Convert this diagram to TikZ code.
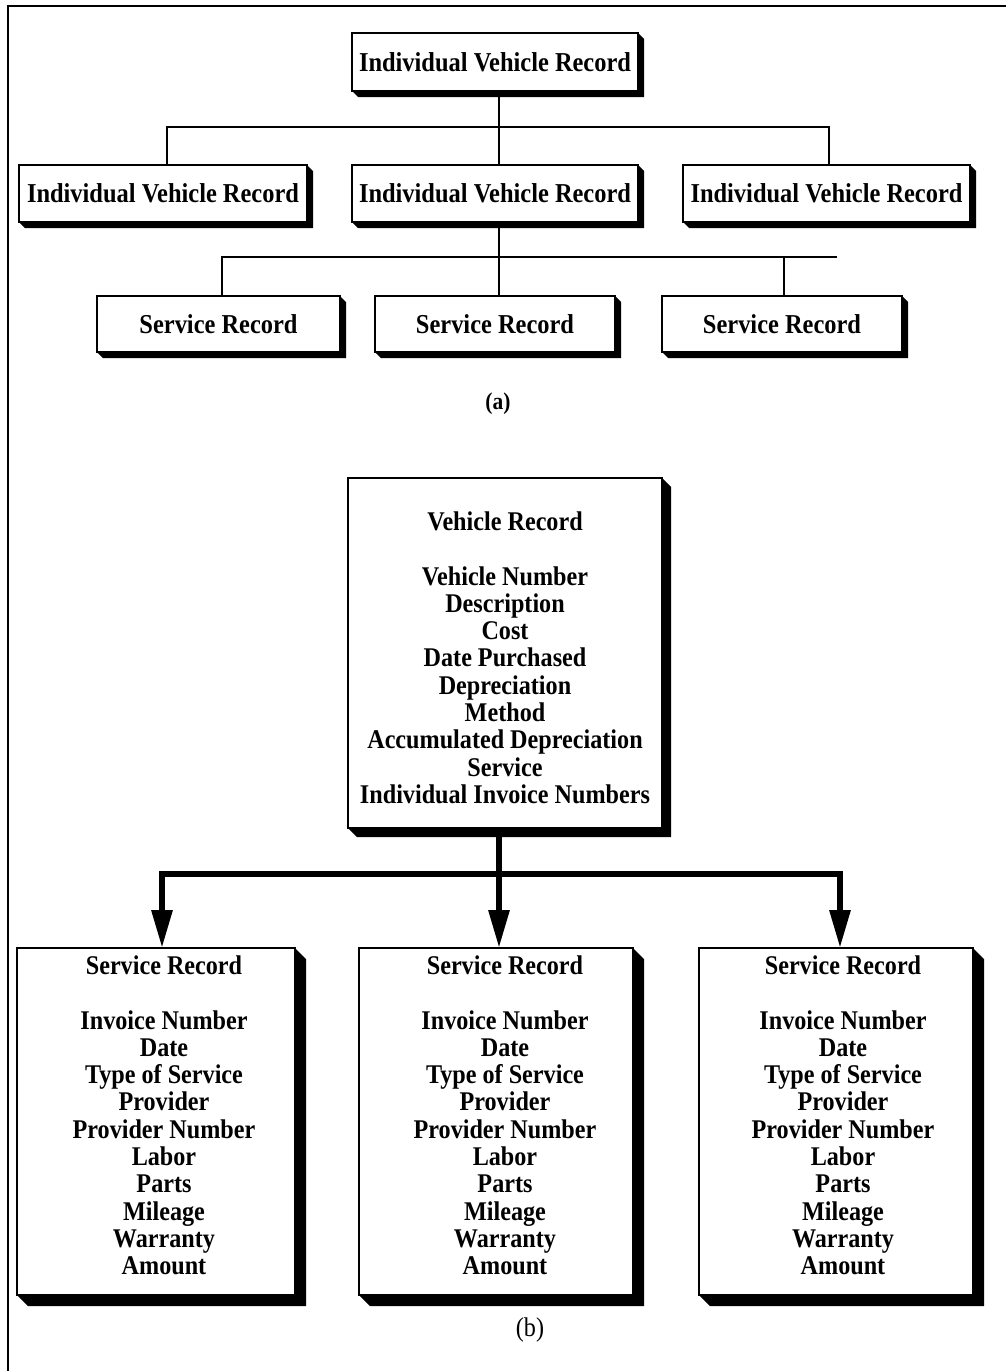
\documentclass[tikz,border=0pt]{standalone}
\usepackage{fontspec}
\setmainfont{Liberation Serif}
\newfontfamily\recfont{Liberation Serif}[FakeStretch=0.895]
\usetikzlibrary{arrows.meta,calc}

\tikzset{
  rec/.style={draw, line width=2.6pt, fill=white, inner sep=0pt, outer sep=0pt,
    font=\recfont\bfseries\fontsize{27.3}{30}\selectfont},
  blist/.style={inner sep=0pt, align=center, anchor=north,
    font=\recfont\bfseries\fontsize{27}{27.3}\selectfont},
  conn/.style={line width=2pt},
  heavy/.style={line width=6pt},
  arr/.style={heavy, -{Triangle[length=38pt,width=20pt]}},
  caption/.style={inner sep=0pt}
}

% black drop shadow along the right and bottom sides of a box
\newcommand\dropshadow[2]{%
  \fill (#1.north east) -- ++(#2,#2) -- ($(#1.south east)+(#2,#2)$)
    -- ($(#1.south west)+(#2,#2)$) -- (#1.south west) -- (#1.south east) -- cycle;}

\begin{document}
\begin{tikzpicture}[x=1pt,y=-1pt]
\useasboundingbox (0,0) rectangle (1006,1371);

% frame
\draw[line width=2pt] (8,1371) -- (8,6) -- (1006,6);

% ---------- (a) hierarchy ----------
\node[rec, minimum width=286pt, minimum height=58pt] (A0) at (495,62) {Individual Vehicle Record};
\node[rec, minimum width=288pt, minimum height=57pt] (A1) at (163,193.5) {Individual Vehicle Record};
\node[rec, minimum width=286pt, minimum height=57pt] (A2) at (495,193.5) {Individual Vehicle Record};
\node[rec, minimum width=287pt, minimum height=57pt] (A3) at (826.5,193.5) {Individual Vehicle Record};
\node[rec, minimum width=243pt, minimum height=56pt] (S1) at (218.5,324) {Service Record};
\node[rec, minimum width=240pt, minimum height=56pt] (S2) at (495,324) {Service Record};
\node[rec, minimum width=240pt, minimum height=56pt] (S3) at (782,324) {Service Record};
\foreach \b in {A0,A1,A2,A3,S1,S2,S3} {\dropshadow{\b}{6}}

\coordinate (busA) at (499,127);
\coordinate (busB) at (499,257);
\coordinate (busBend) at (837,257);
\coordinate (a0bot) at ([xshift=4pt]A0.south);
\coordinate (a1top) at ([xshift=4pt]A1.north);
\coordinate (a2top) at ([xshift=4pt]A2.north);
\coordinate (a2bot) at ([xshift=4pt]A2.south);
\coordinate (a3top) at ([xshift=2.5pt]A3.north);
\coordinate (s1top) at ([xshift=3.5pt]S1.north);
\coordinate (s2top) at ([xshift=4pt]S2.north);
\coordinate (s3top) at ([xshift=2pt]S3.north);

\draw[conn] (a0bot) -- (a2top);
\draw[conn] (a1top) |- (a3top |- busA) -- (a3top);
\draw[conn] (a2bot) -- (s2top);
\draw[conn] (s1top) |- (busBend);
\draw[conn] (s3top) -- (s3top |- busB);

\node[caption, font=\recfont\bfseries\fontsize{24}{26}\selectfont] (capA) at (498,404) {(a)};

% ---------- (b) record layouts ----------
\node[rec, minimum width=314pt, minimum height=350pt] (V) at (505,653) {};
\node[rec, minimum width=278pt, minimum height=347pt] (B1) at (156,1121.5) {};
\node[rec, minimum width=274pt, minimum height=347pt] (B2) at (496,1121.5) {};
\node[rec, minimum width=274pt, minimum height=347pt] (B3) at (836,1121.5) {};
\dropshadow{V}{9}
\foreach \b in {B1,B2,B3} {\dropshadow{\b}{11}}

\node[blist] (Vtext) at (505,511.5) {Vehicle Record\\[27.3pt]Vehicle Number\\Description\\Cost\\Date Purchased\\Depreciation\\Method\\Accumulated Depreciation\\Service\\Individual Invoice Numbers};
\node[blist] (B1text) at (164,955.5) {Service Record\\[27.3pt]Invoice Number\\Date\\Type of Service\\Provider\\Provider Number\\Labor\\Parts\\Mileage\\Warranty\\Amount};
\node[blist] (B2text) at (505,955.5) {Service Record\\[27.3pt]Invoice Number\\Date\\Type of Service\\Provider\\Provider Number\\Labor\\Parts\\Mileage\\Warranty\\Amount};
\node[blist] (B3text) at (843,955.5) {Service Record\\[27.3pt]Invoice Number\\Date\\Type of Service\\Provider\\Provider Number\\Labor\\Parts\\Mileage\\Warranty\\Amount};

\coordinate (hub) at (499,874);
\coordinate (b1top) at ([xshift=6pt]B1.north);
\coordinate (b2top) at ([xshift=3pt]B2.north);
\coordinate (b3top) at ([xshift=4pt]B3.north);

\draw[heavy] (V.south -| hub) -- (hub);
\draw[arr] (hub) -| (b1top);
\draw[arr] (hub) -- (b2top);
\draw[arr] (hub) -| (b3top);

\node[caption, font=\recfont\fontsize{27}{29}\selectfont] (capB) at (530,1330) {(b)};
\end{tikzpicture}
\end{document}
